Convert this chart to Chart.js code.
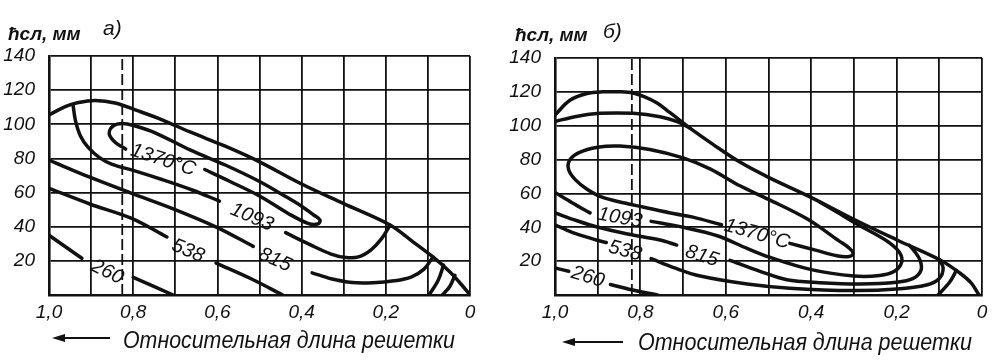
<!DOCTYPE html>
<html>
<head>
<meta charset="utf-8">
<script src="https://cdn.jsdelivr.net/npm/chart.js@4/dist/chart.umd.min.js"></script>
<style>
  html, body { margin: 0; padding: 0; background: #fff; }
  #wrap { position: relative; width: 1000px; height: 361px; }
  .panel { position: absolute; top: 0; width: 500px; height: 361px; }
</style>
</head>
<body>
<div id="wrap">
  <div class="panel" style="left:0"><canvas id="chartA" width="500" height="361"></canvas></div>
  <div class="panel" style="left:500px"><canvas id="chartB" width="500" height="361"></canvas></div>
</div>
<script>
// оси: относительная длина решетки (x), высота слоя h, мм (y)
const xTickLabels = ['1,0', '0,8', '0,6', '0,4', '0,2', '0'];
const yTickLabels = ['20', '40', '60', '80', '100', '120', '140'];

// ---- а) ----
const aSurface = [[1.0,105.5],[0.96,110.5],[0.93,112.8],[0.89,114],[0.843,112.5],[0.79,108],[0.73,102.5],[0.665,95.5],[0.58,87],[0.5,78],[0.4,65],[0.3,53.5],[0.19,41],[0.14,32],[0.088,22.3],[0.05,14],[0.02,6],[0,0]];
const a1370 = [[0.818,85.5],[0.843,89.5],[0.857,94.5],[0.848,99],[0.825,100.5],[0.795,99],[0.748,95],[0.665,85],[0.58,76],[0.5,66.5],[0.44,58],[0.4,52],[0.372,47],[0.356,43.8],[0.362,41.6],[0.385,42],[0.43,47.5],[0.5,58],[0.57,66.5],[0.63,73.5]];
const a1093 = [[0.943,111.5],[0.937,102],[0.925,93],[0.907,86.5],[0.88,80.5],[0.85,76.5],[0.8,73],[0.73,67.5],[0.66,61.5],[0.595,55]];
const a1093b = [[0.438,36.5],[0.38,29.5],[0.33,24],[0.295,22],[0.265,22.3],[0.235,26.5],[0.21,33],[0.19,41]];
const a815 = [[1.0,79],[0.903,69],[0.805,59.7],[0.705,50.5],[0.6,39.5],[0.515,28.5]];
const a815b = [[0.375,13],[0.33,9.5],[0.28,7.3],[0.23,7.2],[0.18,8.3],[0.14,10.5],[0.11,15],[0.088,22.3]];
const a538 = [[1.0,62.5],[0.903,53.3],[0.805,45],[0.72,34]];
const a538b = [[0.603,18.7],[0.52,9.5],[0.445,0]];
const a260 = [[1.0,35],[0.922,21.5]];
const a260b = [[0.8,10.3],[0.705,0]];
const aCorner1 = [[0.063,17.5],[0.075,9],[0.097,0]];
const aCorner2 = [[0.036,11.5],[0.048,5],[0.066,0]];
const aDash = 0.826;
const aIsoNames = ['1370°C', '1093', '815', '538', '260'];
const aIsoAt = [[0.729,79],[0.518,45.5],[0.463,20.5],[0.67,25.8],[0.862,13.5]];

// ---- б) ----
const bSurface = [[1.0,106.3],[0.965,115],[0.925,119],[0.888,120],[0.845,120],[0.817,119.3],[0.79,117],[0.761,113.4],[0.735,108.5],[0.714,104.5],[0.684,98.6],[0.63,89],[0.567,78.5],[0.5,69.5],[0.403,58],[0.297,44.3],[0.199,32.5],[0.098,20.7],[0.052,13],[0.025,7],[0.007,0]];
const bUpper = [[1.0,102.5],[0.95,105.5],[0.895,107.3],[0.817,107.3],[0.754,105.3],[0.714,102.4],[0.684,98.6]];
const b1370 = [[0.45,30.5],[0.39,26.5],[0.34,23.2],[0.315,22.6],[0.302,24.3],[0.31,27.5],[0.335,32],[0.41,45],[0.5,56.5],[0.567,64.5],[0.637,74.5],[0.7,81],[0.778,86],[0.848,88],[0.9,87.3],[0.945,84],[0.966,79.5],[0.968,74],[0.952,68],[0.925,62.5],[0.89,57.8],[0.84,54.5],[0.794,52],[0.72,48],[0.677,46],[0.61,41.5]];
const b1093 = [[1.0,60.5],[0.96,54.5],[0.918,48.5]];
const b1093b = [[0.775,43.5],[0.7,40],[0.62,35],[0.55,27.5],[0.5,22.5],[0.4,15],[0.3,11.2],[0.24,11.5],[0.205,14],[0.188,19.5],[0.193,25],[0.215,30.5],[0.25,36],[0.29,41.5],[0.34,49],[0.38,55]];
const b815 = [[1.0,48.5],[0.95,44],[0.903,40.3],[0.83,36],[0.754,32.5],[0.715,29.5]];
const b815b = [[0.59,20.5],[0.52,14],[0.457,9],[0.38,7.3],[0.286,6.5],[0.2,7.5],[0.161,9.8],[0.143,14.5],[0.145,20.5],[0.16,26.5],[0.17,29.3]];
const b538 = [[1.0,41.5],[0.96,37],[0.903,32.5],[0.88,31]];
const b538b = [[0.775,21.5],[0.72,16],[0.66,11.2],[0.55,6.5],[0.45,4],[0.3,2.6],[0.2,3.5],[0.13,5.9],[0.1,9.8],[0.091,16],[0.1,21]];
const b260 = [[1.0,16],[0.968,14]];
const b260b = [[0.87,6.2],[0.81,2.5],[0.76,0]];
const bCorner = [[0.06,14.5],[0.076,7.5],[0.103,0]];
const bDash = 0.82;
const bIsoNames = ['1093', '1370°C', '815', '538', '260'];
const bIsoAt = [[0.848,45.5],[0.527,36],[0.656,23],[0.836,26],[0.923,10.6]];

const FONT = "'Liberation Sans', 'DejaVu Sans', sans-serif";
const INK = '#111';

function curve(points) {
    return {
        data: points.map(p => ({ x: p[0], y: p[1] })),
        showLine: true,
        pointRadius: 0,
        borderColor: INK,
        borderWidth: 3.5,
        borderJoinStyle: 'round',
        borderCapStyle: 'round',
        tension: 0.35
    };
}

function dashed(xv) {
    return {
        data: [{ x: xv, y: 0 }, { x: xv, y: 140 }],
        showLine: true,
        pointRadius: 0,
        borderColor: INK,
        borderWidth: 1.8,
        borderDash: [11, 4],
        tension: 0
    };
}

// подписи изотерм, заголовки и стрелка
const textPlugin = {
    id: 'texts',
    afterDatasetsDraw(chart, args, o) {
        const { ctx } = chart;
        const sx = chart.scales.x, sy = chart.scales.y;
        ctx.save();
        ctx.fillStyle = INK;
        ctx.strokeStyle = INK;

        o.names.forEach((t, i) => {
            const px = sx.getPixelForValue(o.at[i][0]);
            const py = sy.getPixelForValue(o.at[i][1]);
            ctx.save();
            ctx.translate(px, py);
            ctx.rotate(o.tilt[i] * Math.PI / 180);
            ctx.font = 'italic 20px ' + FONT;
            ctx.textAlign = 'center';
            ctx.textBaseline = 'middle';
            ctx.fillText(t, 0, 0);
            ctx.restore();
        });

        ctx.textAlign = 'left';
        ctx.textBaseline = 'alphabetic';
        ctx.font = 'italic bold 19px ' + FONT;
        ctx.fillText('ħсл, мм', o.titleX, o.titleY);
        ctx.font = 'italic 21px ' + FONT;
        ctx.fillText(o.letter, o.letterX, o.letterY);

        // стрелка
        ctx.lineWidth = 2.2;
        ctx.beginPath();
        ctx.moveTo(o.arrow[0] + 4, o.arrow[2]);
        ctx.lineTo(o.arrow[1], o.arrow[2]);
        ctx.stroke();
        ctx.beginPath();
        ctx.moveTo(o.arrow[0], o.arrow[2]);
        ctx.lineTo(o.arrow[0] + 13, o.arrow[2] - 4);
        ctx.lineTo(o.arrow[0] + 13, o.arrow[2] + 4);
        ctx.closePath();
        ctx.fill();

        // подпись оси, растянутая на ширину как в оригинале
        const cap = 'Относительная длина решетки';
        ctx.font = 'italic 23px ' + FONT;
        const w = ctx.measureText(cap).width;
        ctx.save();
        ctx.translate(o.capX, o.capY);
        ctx.scale(o.capW / w, 1);
        ctx.fillText(cap, 0, 0);
        ctx.restore();

        ctx.restore();
    }
};

function makeChart(id, datasets, layout, texts) {
    return new Chart(document.getElementById(id), {
        type: 'scatter',
        data: { datasets: datasets },
        options: {
            responsive: false,
            animation: false,
            devicePixelRatio: 1,
            layout: { padding: { top: layout.top, right: layout.right, left: 0, bottom: 0 } },
            plugins: {
                legend: { display: false },
                tooltip: { enabled: false },
                texts: texts
            },
            scales: {
                x: {
                    type: 'linear',
                    reverse: true,
                    min: 0,
                    max: 1,
                    afterFit: s => { s.height = 66; },
                    border: { color: INK, width: 2.6 },
                    grid: { color: INK, lineWidth: 1.8, drawTicks: false },
                    ticks: {
                        stepSize: 0.1,
                        autoSkip: false,
                        maxRotation: 0,
                        padding: 6,
                        color: INK,
                        font: { family: FONT, size: 19, style: 'italic' },
                        callback: v => {
                            const i = Math.round(v * 10);
                            return i % 2 ? '' : xTickLabels[(10 - i) / 2];
                        }
                    }
                },
                y: {
                    type: 'linear',
                    min: 0,
                    max: 140,
                    afterFit: s => { s.width = layout.yWidth; },
                    border: { color: INK, width: 2.6 },
                    grid: { color: INK, lineWidth: 1.8, drawTicks: false },
                    ticks: {
                        stepSize: 20,
                        autoSkip: false,
                        padding: 14,
                        color: INK,
                        font: { family: FONT, size: 19, style: 'italic' },
                        callback: v => (v === 0 ? '' : yTickLabels[Math.round(v / 20) - 1])
                    }
                }
            }
        },
        plugins: [textPlugin]
    });
}

makeChart('chartA',
    [aSurface, a1370, a1093, a1093b, a815, a815b, a538, a538b, a260, a260b, aCorner1, aCorner2].map(curve).concat([dashed(aDash)]),
    { top: 56, right: 30, yWidth: 49 },
    {
        names: aIsoNames, at: aIsoAt, tilt: [18, 23, 24, 22, 26],
        titleX: 8, titleY: 40, letter: 'а)', letterX: 103, letterY: 35,
        arrow: [52, 110, 338], capX: 123, capY: 348, capW: 332
    });

makeChart('chartB',
    [bSurface, bUpper, b1370, b1093, b1093b, b815, b815b, b538, b538b, b260, b260b, bCorner].map(curve).concat([dashed(bDash)]),
    { top: 58, right: 18, yWidth: 55 },
    {
        names: bIsoNames, at: bIsoAt, tilt: [10, 16, 18, 15, 17],
        titleX: 15, titleY: 41, letter: 'б)', letterX: 103, letterY: 38,
        arrow: [62, 123, 342], capX: 138, capY: 350, capW: 334
    });
</script>
</body>
</html>
